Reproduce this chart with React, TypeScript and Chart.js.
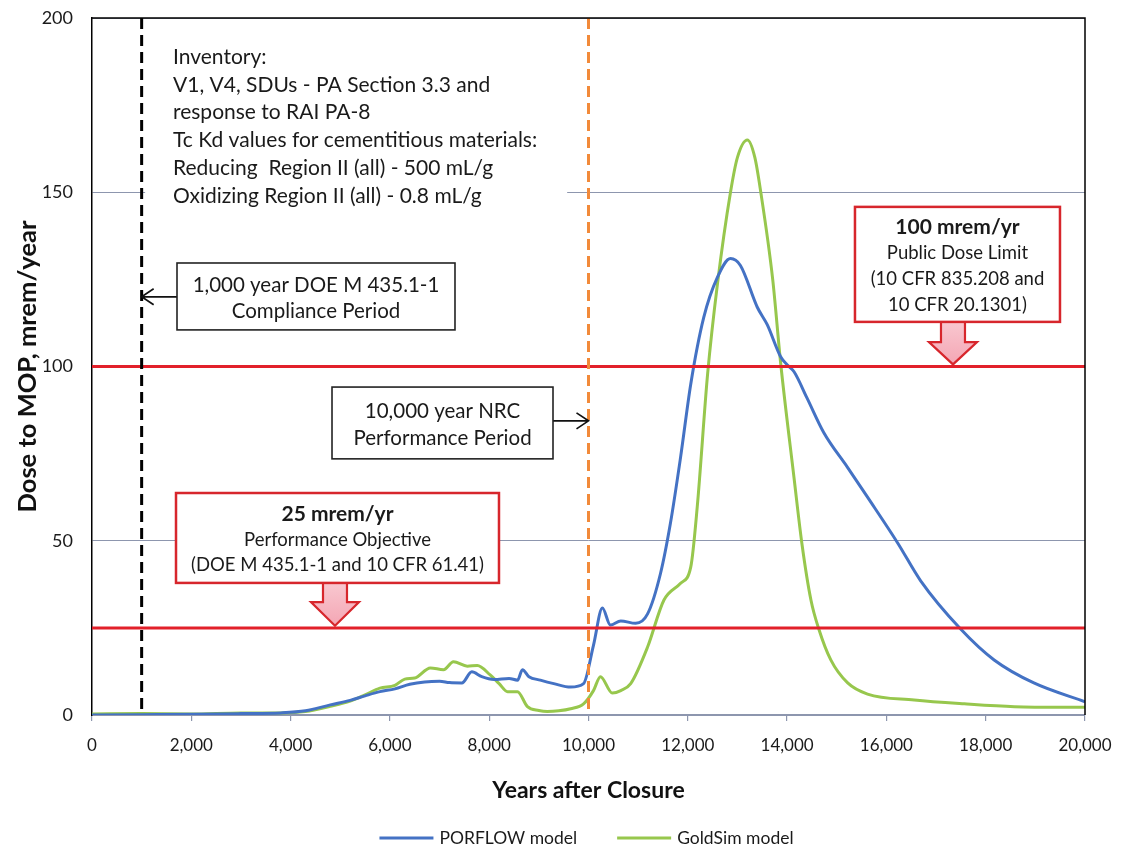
import React, { useEffect, useRef } from 'react';
import { Chart, registerables } from 'chart.js';

Chart.register(...registerables);

// ---------- DATA ----------
const porflowYears = [0, 1000, 2000, 3000, 3800, 4300, 4800, 5200, 5500, 5800, 6100, 6400, 6700, 7000, 7200, 7450, 7650, 7850, 8100, 8400, 8570, 8670, 8800, 9030, 9300, 9640, 9900, 10100, 10280, 10440, 10650, 10950, 11190, 11450, 11650, 11855, 12060, 12320, 12600, 12860, 13060, 13400, 13600, 13870, 14000, 14140, 14400, 14740, 15220, 15620, 16230, 16690, 17500, 18170, 18970, 20000];
const porflowDose = [0, 0.1, 0.2, 0.4, 0.6, 1.2, 2.9, 4.2, 5.5, 6.7, 7.5, 8.8, 9.5, 9.7, 9.3, 9.2, 12.4, 11.0, 10.2, 10.5, 10.0, 13.0, 11.0, 10.0, 9.0, 8.0, 9.0, 20, 30.7, 25.8, 27, 26.3, 29, 40.6, 55, 74, 95, 114, 125.7, 131, 129, 117, 112, 102.8, 100.5, 98.5, 91, 81, 71, 62.5, 49.3, 38.5, 24.6, 15.8, 9.2, 3.8];

const goldsimYears = [0, 1000, 2000, 3000, 3800, 4300, 4800, 5200, 5500, 5800, 6100, 6300, 6500, 6815, 7080, 7280, 7560, 7760, 8020, 8200, 8370, 8570, 8770, 9000, 9170, 9400, 9640, 9900, 10100, 10240, 10480, 10650, 10850, 11190, 11520, 11855, 12060, 12190, 12400, 12600, 12860, 13000, 13200, 13350, 13470, 13710, 13870, 14140, 14300, 14480, 14640, 14880, 15220, 15620, 16560, 17570, 18580, 20000];
const goldsimDose = [0.3, 0.4, 0.3, 0.6, 0.6, 1.0, 2.5, 4.0, 5.8, 7.7, 8.5, 10.3, 10.6, 13.5, 13.0, 15.3, 14.0, 14.2, 11.5, 9.0, 6.7, 6.7, 2.4, 1.3, 1.0, 1.2, 1.8, 3.2, 7.0, 11.0, 6.3, 7.0, 9.0, 19.5, 33, 37.8, 42.5, 59.7, 98, 124, 150, 160, 165, 160, 150, 125, 101, 68, 49, 33, 24.6, 15.8, 9.2, 6.0, 4.3, 3.2, 2.4, 2.2];

const seriesLabels = ['PORFLOW model', 'GoldSim model'];
const xMin = 0;
const xMax = 20000;
const xStep = 2000;
const yMin = 0;
const yMax = 200;
const yStep = 50;

const limitLevels = [100, 25];           // mrem/yr
const periodYears = [1000, 10000];       // compliance / performance periods

const inventoryLines = [
  'Inventory:',
  'V1, V4, SDUs - PA Section 3.3 and',
  'response to RAI PA-8',
  'Tc Kd values for cementitious materials:',
  'Reducing  Region II (all) - 500 mL/g',
  'Oxidizing Region II (all) - 0.8 mL/g',
];
const complianceLines = ['1,000 year DOE M 435.1-1', 'Compliance Period'];
const nrcLines = ['10,000 year NRC', 'Performance Period'];
const objectiveLines = ['25 mrem/yr', 'Performance Objective', '(DOE M 435.1-1 and 10 CFR 61.41)'];
const publicLines = ['100 mrem/yr', 'Public Dose Limit', '(10 CFR 835.208 and', '10 CFR 20.1301)'];

// ---------- STYLE ----------
const FONT = 'Lato, "Open Sans", sans-serif';
const BLUE = '#4472c4';
const GREEN = '#97c74d';
const RED = '#e2202a';
const BOX_RED = '#d7262c';
const PINK = '#f4a6b4';
const ORANGE = '#f28a3a';
const GRID = '#8d96ae';
const TEXT = '#1a1a1a';

const annotationPlugin = {
  id: 'doseAnnotations',
  beforeDatasetsDraw(chart: any) {
    const { ctx, scales } = chart;
    const x = scales.x, y = scales.y;
    ctx.save();
    // white panel behind inventory text
    ctx.fillStyle = '#ffffff';
    const l = x.getPixelForValue(1070), r = x.getPixelForValue(9570);
    const t = y.getPixelForValue(196), b = y.getPixelForValue(145);
    ctx.fillRect(l, t, r - l, b - t);
    ctx.fillStyle = TEXT;
    ctx.font = `21px ${FONT}`;
    ctx.textAlign = 'left';
    ctx.textBaseline = 'middle';
    const tx = x.getPixelForValue(1631);
    const ty = y.getPixelForValue(188.8);
    inventoryLines.forEach((s, i) => ctx.fillText(s, tx, ty + i * 27.8));
    ctx.restore();
  },
  afterDatasetsDraw(chart: any) {
    const { ctx, scales, chartArea } = chart;
    const x = scales.x, y = scales.y;
    ctx.save();

    // red limit lines
    ctx.strokeStyle = RED;
    ctx.lineWidth = 3;
    limitLevels.forEach((v) => {
      const py = y.getPixelForValue(v);
      ctx.beginPath();
      ctx.moveTo(chartArea.left, py);
      ctx.lineTo(chartArea.right, py);
      ctx.stroke();
    });

    // vertical dashed period lines
    const periodColors = ['#000000', ORANGE];
    periodYears.forEach((yr, i) => {
      const px = x.getPixelForValue(yr);
      ctx.strokeStyle = periodColors[i];
      ctx.lineWidth = 3;
      ctx.setLineDash([11, 6]);
      ctx.beginPath();
      ctx.moveTo(px, chartArea.top);
      ctx.lineTo(px, chartArea.bottom);
      ctx.stroke();
    });
    ctx.setLineDash([]);

    const drawBox = (x0: number, x1: number, yTop: number, yBot: number, lines: string[], border: string, bw: number, gap: number, boldFirst: boolean, fs: number, bfs: number) => {
      const l = x.getPixelForValue(x0), r = x.getPixelForValue(x1);
      const t = y.getPixelForValue(yTop), b = y.getPixelForValue(yBot);
      ctx.fillStyle = '#ffffff';
      ctx.fillRect(l, t, r - l, b - t);
      ctx.strokeStyle = border;
      ctx.lineWidth = bw;
      ctx.strokeRect(l, t, r - l, b - t);
      ctx.fillStyle = TEXT;
      ctx.textAlign = 'center';
      ctx.textBaseline = 'middle';
      const cx = (l + r) / 2;
      const cy = (t + b) / 2 + 2;
      const start = cy - ((lines.length - 1) * gap) / 2;
      lines.forEach((s, i) => {
        ctx.font = boldFirst && i === 0 ? `bold ${bfs}px ${FONT}` : `${fs}px ${FONT}`;
        ctx.fillText(s, cx, start + i * gap);
      });
    };

    const openArrow = (fromX: number, toX: number, atY: number) => {
      const fx = x.getPixelForValue(fromX), tx = x.getPixelForValue(toX);
      const py = y.getPixelForValue(atY);
      const dir = fx > tx ? 1 : -1;
      ctx.strokeStyle = '#111';
      ctx.lineWidth = 1.7;
      ctx.beginPath();
      ctx.moveTo(fx, py);
      ctx.lineTo(tx, py);
      ctx.moveTo(tx + dir * 12, py - 8);
      ctx.lineTo(tx, py);
      ctx.lineTo(tx + dir * 12, py + 8);
      ctx.stroke();
    };

    const blockArrow = (cxv: number, topv: number, basev: number, tipv: number) => {
      const cx = x.getPixelForValue(cxv);
      const t = y.getPixelForValue(topv), bs = y.getPixelForValue(basev), tp = y.getPixelForValue(tipv);
      const sh = 12, hh = 24;
      const g = ctx.createLinearGradient(0, t, 0, tp);
      g.addColorStop(0, '#f9c9d1');
      g.addColorStop(1, PINK);
      ctx.fillStyle = g;
      ctx.strokeStyle = BOX_RED;
      ctx.lineWidth = 2.2;
      ctx.beginPath();
      ctx.moveTo(cx - sh, t);
      ctx.lineTo(cx - sh, bs);
      ctx.lineTo(cx - hh, bs);
      ctx.lineTo(cx, tp);
      ctx.lineTo(cx + hh, bs);
      ctx.lineTo(cx + sh, bs);
      ctx.lineTo(cx + sh, t);
      ctx.closePath();
      ctx.fill();
      ctx.stroke();
    };

    // compliance period box + arrow
    openArrow(1712, periodYears[0], 120);
    drawBox(1712, 7311, 129.7, 110.5, complianceLines, '#222', 1.6, 26, false, 20.5, 20.5);
    // NRC box + arrow
    openArrow(9285, periodYears[1], 84.4);
    drawBox(4834, 9285, 94.1, 73.5, nrcLines, '#222', 1.6, 27, false, 20.5, 20.5);
    // 25 mrem/yr
    blockArrow(4894, 38.5, 32.4, 25.6);
    drawBox(1692, 8197, 63.7, 37.9, objectiveLines, BOX_RED, 2.5, 25.5, true, 18.5, 21);
    // 100 mrem/yr
    blockArrow(17341, 113.5, 107, 100.6);
    drawBox(15367, 19496, 145.8, 112.8, publicLines, BOX_RED, 2.5, 26, true, 18.5, 21);

    // plot frame (top & right)
    ctx.strokeStyle = '#000';
    ctx.lineWidth = 1.5;
    ctx.beginPath();
    ctx.moveTo(chartArea.left, chartArea.top);
    ctx.lineTo(chartArea.right, chartArea.top);
    ctx.lineTo(chartArea.right, chartArea.bottom);
    ctx.stroke();
    ctx.restore();
  },
  afterDraw(chart: any) {
    // legend (line samples)
    const { ctx, chartArea } = chart;
    ctx.save();
    ctx.font = `17.5px ${FONT}`;
    ctx.textBaseline = 'middle';
    ctx.textAlign = 'left';
    const sample = 54, gapText = 6, gapItem = 40;
    const items = chart.data.datasets.map((d: any) => ({ label: d.label, color: d.borderColor }));
    const widths = items.map((it: any) => sample + gapText + ctx.measureText(it.label).width);
    const total = widths.reduce((a: number, b: number) => a + b, 0) + gapItem * (items.length - 1);
    let px = (chartArea.left + chartArea.right) / 2 - 2 - total / 2;
    const py = 838;
    items.forEach((it: any, i: number) => {
      ctx.strokeStyle = it.color;
      ctx.lineWidth = 3;
      ctx.beginPath();
      ctx.moveTo(px, py);
      ctx.lineTo(px + sample, py);
      ctx.stroke();
      ctx.fillStyle = TEXT;
      ctx.fillText(it.label, px + sample + gapText, py);
      px += widths[i] + gapItem;
    });
    ctx.restore();
  },
};

export default function App() {
  const ref = useRef<HTMLCanvasElement | null>(null);
  useEffect(() => {
    if (!ref.current) return;
    const chart = new Chart(ref.current, {
      type: 'line',
      data: {
        datasets: [
          {
            label: seriesLabels[0],
            data: porflowYears.map((v, i) => ({ x: v, y: porflowDose[i] })),
            borderColor: BLUE,
            backgroundColor: BLUE,
            borderWidth: 3,
            pointRadius: 0,
            cubicInterpolationMode: 'monotone',
            fill: false,
          },
          {
            label: seriesLabels[1],
            data: goldsimYears.map((v, i) => ({ x: v, y: goldsimDose[i] })),
            borderColor: GREEN,
            backgroundColor: GREEN,
            borderWidth: 3,
            pointRadius: 0,
            cubicInterpolationMode: 'monotone',
            fill: false,
          },
        ],
      },
      options: {
        responsive: false,
        animation: false,
        layout: { padding: { top: 18, right: 36, left: 0, bottom: 0 } },
        plugins: { legend: { display: false }, tooltip: { enabled: false } },
        scales: {
          x: {
            type: 'linear',
            min: xMin,
            max: xMax,
            afterFit: (s: any) => { s.height = 134; s.paddingLeft = 0; s.paddingRight = 0; },
            afterBuildTicks: (s: any) => {
              const t = [];
              for (let v = xMin; v <= xMax; v += xStep) t.push({ value: v });
              s.ticks = t;
            },
            ticks: {
              callback: (v: any) => Number(v).toLocaleString('en-US'),
              font: { family: FONT, size: 17 },
              color: TEXT,
              padding: 14,
              maxRotation: 0,
              autoSkip: false,
            },
            grid: { drawOnChartArea: false, drawTicks: true, tickLength: 6, color: GRID, lineWidth: 1.2 },
            border: { color: GRID, width: 1.5 },
            title: {
              display: true,
              text: 'Years after Closure',
              font: { family: FONT, size: 23, weight: 'bold' },
              color: '#111',
              padding: { top: 0, bottom: 45 },
            },
          },
          y: {
            min: yMin,
            max: yMax,
            afterFit: (s: any) => { s.width = 92; s.paddingTop = 0; s.paddingBottom = 0; },
            ticks: {
              stepSize: yStep,
              font: { family: FONT, size: 18 },
              color: TEXT,
              padding: 19,
            },
            grid: { color: GRID, lineWidth: 1, drawTicks: false },
            border: { color: '#000', width: 1.5 },
            title: {
              display: true,
              text: 'Dose to MOP, mrem/year',
              font: { family: FONT, size: 25.5, weight: 'bold' },
              color: '#111',
              padding: { top: 12, bottom: 0 },
            },
          },
        },
      },
      plugins: [annotationPlugin],
    } as any);
    return () => chart.destroy();
  }, []);
  return (
    <div style={{ position: 'absolute', left: 0, top: 0, width: 1121, height: 849, background: '#fff' }}>
      <canvas ref={ref} width={1121} height={849} />
    </div>
  );
}
